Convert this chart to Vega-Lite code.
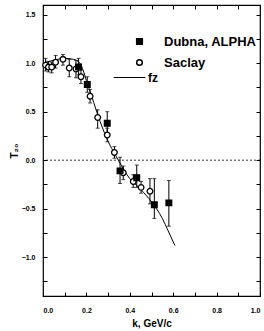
{
  "$schema": "https://vega.github.io/schema/vega-lite/v6.json",
  "width": 217,
  "height": 291,
  "autosize": {"type": "none"},
  "padding": {"left": 43, "top": 5, "right": 4, "bottom": 35},
  "background": "white",
  "config": {
    "view": {"stroke": "black", "strokeWidth": 1.2},
    "font": "Liberation Sans",
    "axis": {"labelFont": "Liberation Sans", "titleFont": "Liberation Sans", "labelFontWeight": "bold", "titleFontWeight": "bold", "labelColor": "black", "titleColor": "black", "tickColor": "black", "domain": false, "grid": false},
    "legend": {"labelFont": "Liberation Sans", "labelFontWeight": "bold", "labelColor": "black", "labelLimit": 300}
  },
  "datasets": {
    "pts": [
      {"set": "Saclay", "k": 0.012, "T": 0.98, "lo": 0.92, "hi": 1.05},
      {"set": "Saclay", "k": 0.025, "T": 0.96, "lo": 0.91, "hi": 1.02},
      {"set": "Saclay", "k": 0.04, "T": 0.96, "lo": 0.90, "hi": 1.01},
      {"set": "Saclay", "k": 0.058, "T": 1.01, "lo": 0.95, "hi": 1.08},
      {"set": "Saclay", "k": 0.092, "T": 1.04, "lo": 0.98, "hi": 1.09},
      {"set": "Saclay", "k": 0.121, "T": 0.95, "lo": 0.86, "hi": 1.04},
      {"set": "Saclay", "k": 0.152, "T": 0.94, "lo": 0.85, "hi": 1.03},
      {"set": "Saclay", "k": 0.175, "T": 0.86, "lo": 0.79, "hi": 0.93},
      {"set": "Saclay", "k": 0.217, "T": 0.66, "lo": 0.59, "hi": 0.73},
      {"set": "Saclay", "k": 0.252, "T": 0.44, "lo": 0.33, "hi": 0.52},
      {"set": "Saclay", "k": 0.296, "T": 0.26, "lo": 0.19, "hi": 0.33},
      {"set": "Saclay", "k": 0.329, "T": 0.08, "lo": 0.02, "hi": 0.14},
      {"set": "Saclay", "k": 0.37, "T": -0.13, "lo": -0.2, "hi": -0.06},
      {"set": "Saclay", "k": 0.416, "T": -0.22, "lo": -0.28, "hi": -0.15},
      {"set": "Saclay", "k": 0.452, "T": -0.28, "lo": -0.34, "hi": -0.22},
      {"set": "Saclay", "k": 0.493, "T": -0.32, "lo": -0.45, "hi": -0.19},
      {"set": "Dubna,  ALPHA", "k": 0.164, "T": 0.96, "lo": 0.88, "hi": 1.05},
      {"set": "Dubna,  ALPHA", "k": 0.204, "T": 0.78, "lo": 0.70, "hi": 0.86},
      {"set": "Dubna,  ALPHA", "k": 0.296, "T": 0.38, "lo": 0.25, "hi": 0.50},
      {"set": "Dubna,  ALPHA", "k": 0.355, "T": -0.11, "lo": -0.24, "hi": 0.03},
      {"set": "Dubna,  ALPHA", "k": 0.432, "T": -0.18, "lo": -0.28, "hi": -0.05},
      {"set": "Dubna,  ALPHA", "k": 0.513, "T": -0.46, "lo": -0.6, "hi": -0.19},
      {"set": "Dubna,  ALPHA", "k": 0.58, "T": -0.44, "lo": -0.68, "hi": -0.21}
    ],
    "curve": [
      {"name": "fz", "k": 0.0, "T": 1.0},
      {"name": "fz", "k": 0.05, "T": 1.03},
      {"name": "fz", "k": 0.1, "T": 1.05},
      {"name": "fz", "k": 0.14, "T": 1.04},
      {"name": "fz", "k": 0.17, "T": 1.0},
      {"name": "fz", "k": 0.186, "T": 0.92},
      {"name": "fz", "k": 0.2, "T": 0.82},
      {"name": "fz", "k": 0.224, "T": 0.66},
      {"name": "fz", "k": 0.263, "T": 0.4},
      {"name": "fz", "k": 0.301, "T": 0.19},
      {"name": "fz", "k": 0.317, "T": 0.12},
      {"name": "fz", "k": 0.347, "T": 0.0},
      {"name": "fz", "k": 0.4, "T": -0.19},
      {"name": "fz", "k": 0.45, "T": -0.3},
      {"name": "fz", "k": 0.5, "T": -0.43},
      {"name": "fz", "k": 0.55, "T": -0.6},
      {"name": "fz", "k": 0.577, "T": -0.73},
      {"name": "fz", "k": 0.608, "T": -0.88}
    ],
    "zero": [{"z": 0}]
  },
  "layer": [
    {
      "data": {"name": "zero"},
      "mark": {"type": "rule", "strokeDash": [2, 2], "strokeWidth": 0.8, "color": "black"},
      "encoding": {"y": {"field": "z", "type": "quantitative", "axis": null}}
    },
    {
      "data": {"name": "curve"},
      "mark": {"type": "line", "interpolate": "monotone", "strokeWidth": 1},
      "encoding": {
        "x": {"field": "k", "type": "quantitative", "scale": {"domain": [0, 1]},
          "axis": {"orient": "bottom", "values": [0, 0.1, 0.2, 0.3, 0.4, 0.5, 0.6, 0.7, 0.8, 0.9, 1], "labelExpr": "datum.value * 10 % 2 == 0 ? format(datum.value, '.1f') : ''", "tickSize": -4, "labelPadding": 14, "labelFontSize": 7, "title": "k,  GeV/c", "titleFontSize": 10, "titlePadding": 5}},
        "y": {"field": "T", "type": "quantitative", "scale": {"domain": [-1.25, 1.5]},
          "axis": {"orient": "left", "values": [-1.25, -1, -0.75, -0.5, -0.25, 0, 0.25, 0.5, 0.75, 1, 1.25, 1.5], "labelExpr": "datum.value * 4 % 2 == 0 ? format(datum.value, '.1f') : ''", "tickSize": -4, "labelPadding": 12, "labelFontSize": 7, "title": "T₂₀", "titleFontSize": 10, "titlePadding": 2}},
        "stroke": {"field": "name", "type": "nominal", "scale": {"range": ["black"]},
          "legend": {"orient": "none", "legendX": 70, "legendY": 56, "symbolType": "stroke", "symbolSize": 1000, "symbolStrokeWidth": 1, "labelFontSize": 12, "title": null, "labelOffset": 2}}
      }
    },
    {
      "data": {"name": "pts"},
      "mark": {"type": "rule", "color": "black", "strokeWidth": 1},
      "encoding": {
        "x": {"field": "k", "type": "quantitative", "axis": null},
        "y": {"field": "lo", "type": "quantitative", "axis": null},
        "y2": {"field": "hi"}
      }
    },
    {
      "data": {"name": "pts"},
      "mark": {"type": "tick", "color": "black", "size": 4, "thickness": 1, "orient": "horizontal"},
      "encoding": {
        "x": {"field": "k", "type": "quantitative", "axis": null},
        "y": {"field": "lo", "type": "quantitative", "axis": null}
      }
    },
    {
      "data": {"name": "pts"},
      "mark": {"type": "tick", "color": "black", "size": 4, "thickness": 1, "orient": "horizontal"},
      "encoding": {
        "x": {"field": "k", "type": "quantitative", "axis": null},
        "y": {"field": "hi", "type": "quantitative", "axis": null}
      }
    },
    {
      "data": {"name": "pts"},
      "mark": {"type": "point", "strokeWidth": 1.3, "opacity": 1, "filled": true},
      "encoding": {
        "x": {"field": "k", "type": "quantitative", "axis": null},
        "y": {"field": "T", "type": "quantitative", "axis": null},
        "shape": {"field": "set", "type": "nominal", "scale": {"domain": ["Dubna,  ALPHA", "Saclay"], "range": ["square", "circle"]},
          "legend": {"orient": "none", "legendX": 90, "legendY": 30, "title": null, "labelFontSize": 13, "rowPadding": 7, "labelOffset": 18, "symbolSize": 32,
            "encode": {"symbols": {"update": {"stroke": {"value": "black"}, "strokeWidth": {"value": 1.3}}}}}},
        "fill": {"field": "set", "type": "nominal", "scale": {"domain": ["Dubna,  ALPHA", "Saclay"], "range": ["black", "white"]},
          "legend": {"orient": "none", "legendX": 90, "legendY": 30, "title": null, "labelFontSize": 13, "rowPadding": 7, "labelOffset": 18, "symbolSize": 32,
            "encode": {"symbols": {"update": {"stroke": {"value": "black"}, "strokeWidth": {"value": 1.3}}}}}},
        "stroke": {"value": "black"},
        "size": {"value": 32}
      }
    },
    {
      "data": {"name": "zero"},
      "mark": {"type": "rule", "opacity": 0},
      "encoding": {
        "x": {"field": "z", "type": "quantitative", "axis": {"orient": "top", "values": [0, 0.1, 0.2, 0.3, 0.4, 0.5, 0.6, 0.7, 0.8, 0.9, 1], "labels": false, "tickSize": -4, "title": null}},
        "y": {"field": "z", "type": "quantitative", "axis": {"orient": "right", "values": [-1.25, -1, -0.75, -0.5, -0.25, 0, 0.25, 0.5, 0.75, 1, 1.25, 1.5], "labels": false, "tickSize": -4, "title": null}}
      }
    }
  ],
  "resolve": {"axis": {"x": "independent", "y": "independent"}, "legend": {"stroke": "independent"}}
}
